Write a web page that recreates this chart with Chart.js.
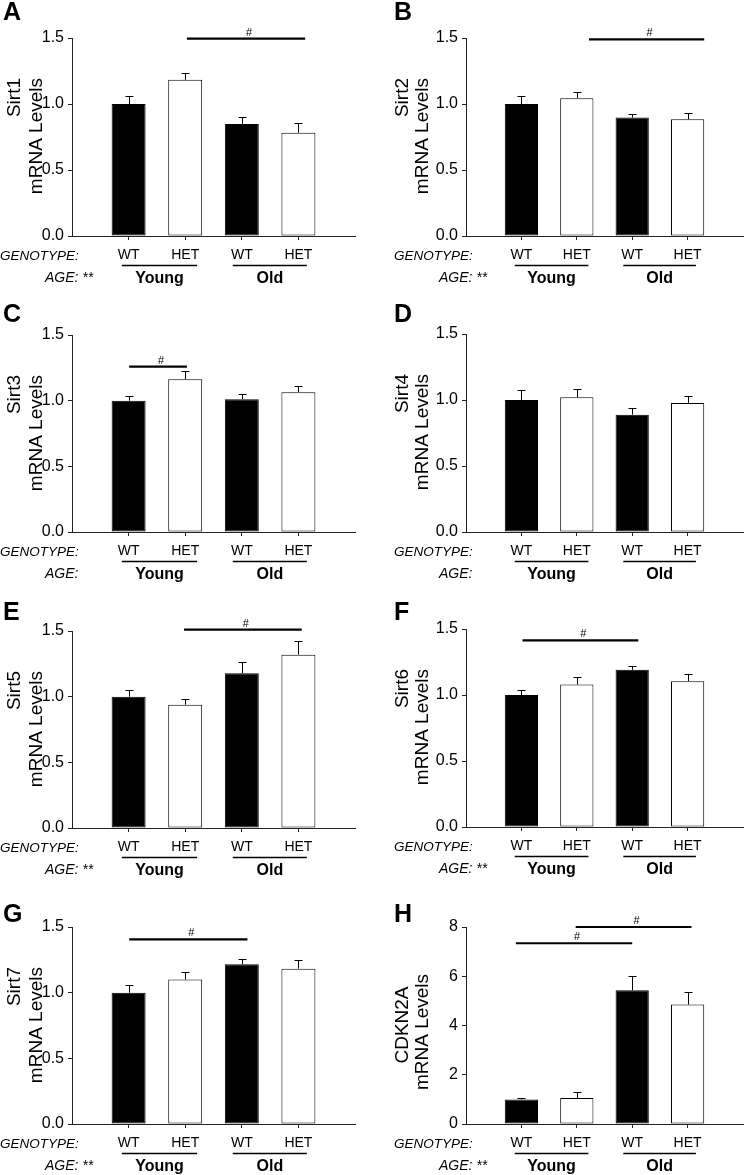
<!DOCTYPE html>
<html><head><meta charset="utf-8">
<script src="https://cdn.jsdelivr.net/npm/chart.js@4.4.0/dist/chart.umd.min.js"></script>
<style>
html,body{margin:0;padding:0;background:#fff;}
#wrap{position:relative;width:750px;height:1175px;overflow:hidden;background:#fff;}
canvas{position:absolute;left:0;top:0;}
</style></head><body><div id="wrap"></div>
<script>
// ---------- data ----------
const categories = ['', 'WT', 'HET', 'WT', 'HET', ''];
const groupLabels = ['Young', 'Old'];
const groupSpans = [[0.88, 2.21], [2.84, 4.15]];
const panelLetters = ['A','B','C','D','E','F','G','H'];
const geneNames = ['Sirt1','Sirt2','Sirt3','Sirt4','Sirt5','Sirt6','Sirt7','CDKN2A'];
const ageStars = ['**','**','','','**','**','**','**'];

const sirt1Mean = [null, 1.00, 1.183, 0.849, 0.783, null];
const sirt1Err  = [null, 0.057, 0.051, 0.056, 0.071, null];
const sirt2Mean = [null, 1.00, 1.044, 0.897, 0.884, null];
const sirt2Err  = [null, 0.057, 0.048, 0.028, 0.046, null];
const sirt3Mean = [null, 1.00, 1.163, 1.011, 1.064, null];
const sirt3Err  = [null, 0.036, 0.063, 0.038, 0.048, null];
const sirt4Mean = [null, 1.00, 1.021, 0.889, 0.978, null];
const sirt4Err  = [null, 0.072, 0.063, 0.053, 0.056, null];
const sirt5Mean = [null, 1.00, 0.939, 1.178, 1.320, null];
const sirt5Err  = [null, 0.048, 0.046, 0.083, 0.104, null];
const sirt6Mean = [null, 1.00, 1.079, 1.191, 1.105, null];
const sirt6Err  = [null, 0.041, 0.054, 0.030, 0.053, null];
const sirt7Mean = [null, 1.00, 1.100, 1.216, 1.183, null];
const sirt7Err  = [null, 0.062, 0.055, 0.041, 0.064, null];
const cdkn2aMean = [null, 1.00, 1.054, 5.43, 4.85, null];
const cdkn2aErr  = [null, 0.07, 0.256, 0.60, 0.51, null];

// significance bars: [from category position, to category position, y value]
const sirt1Sig = [[2.03, 4.12, 1.495]];
const sirt2Sig = [[2.22, 4.30, 1.49]];
const sirt3Sig = [[1.01, 2.03, 1.259]];
const sirt4Sig = [];
const sirt5Sig = [[1.98, 4.06, 1.51]];
const sirt6Sig = [[1.02, 3.11, 1.414]];
const sirt7Sig = [[1.01, 3.10, 1.406]];
const cdkn2aSig = [[0.90, 3.00, 7.34], [1.98, 4.07, 8.0]];

const sirtTicksMax = 1.5, sirtStep = 0.5;
const cdknTicksMax = 8, cdknStep = 2;

const allMeans = [sirt1Mean, sirt2Mean, sirt3Mean, sirt4Mean, sirt5Mean, sirt6Mean, sirt7Mean, cdkn2aMean];
const allErrs  = [sirt1Err, sirt2Err, sirt3Err, sirt4Err, sirt5Err, sirt6Err, sirt7Err, cdkn2aErr];
const allSigs  = [sirt1Sig, sirt2Sig, sirt3Sig, sirt4Sig, sirt5Sig, sirt6Sig, sirt7Sig, cdkn2aSig];

// ---------- layout ----------
const W = 750, H = 1175;
const colAxisX = [72, 466];
const plotWidth = 283;
const plotTop = [38, 38, 335, 334, 631, 629, 927, 927];
const plotBottom = [236, 236, 532, 532, 828, 827, 1124, 1124];
const letterX = [3, 394];
const letterBase = [20, 20, 322, 322, 620, 620, 922, 922];
const titleOffsets = [[-52, -30], [-58, -38]];
const Y_AXIS_W = 60, X_AXIS_H = 30;
const FONT = "'Liberation Sans', Arial, Helvetica, sans-serif";

const wrap = document.getElementById('wrap');

const annotate = {
  id: 'annotate',
  afterDraw(chart, args, o) {
    const ctx = chart.ctx;
    const xs = chart.scales.x, ys = chart.scales.y;
    const p = o.panel;
    const y0 = ys.getPixelForValue(0);
    const axisX = xs.left;
    ctx.save();
    ctx.strokeStyle = '#000';
    ctx.fillStyle = '#000';
    // error bars
    ctx.lineWidth = 1;
    p.means.forEach((m, i) => {
      if (m === null) return;
      const x = Math.round(xs.getPixelForValue(i)) + 0.5;
      const yT = ys.getPixelForValue(m);
      const yE = Math.round(ys.getPixelForValue(m + p.errs[i])) + 0.5;
      ctx.beginPath();
      ctx.moveTo(x, yT); ctx.lineTo(x, yE);
      ctx.moveTo(x - 4, yE); ctx.lineTo(x + 4, yE);
      ctx.stroke();
    });
    // significance bars
    p.sigs.forEach(s => {
      const xa = xs.getPixelForValue(s[0]), xb = xs.getPixelForValue(s[1]);
      const yy = ys.getPixelForValue(s[2]);
      ctx.lineWidth = 2.2;
      ctx.beginPath(); ctx.moveTo(xa, yy); ctx.lineTo(xb, yy); ctx.stroke();
      ctx.font = '11px ' + FONT;
      ctx.textAlign = 'center'; ctx.textBaseline = 'alphabetic';
      ctx.fillText('#', (xa + xb) / 2 + 3, yy - 3);
    });
    // panel letter
    ctx.font = 'bold 25px ' + FONT;
    ctx.textAlign = 'left'; ctx.textBaseline = 'alphabetic';
    ctx.fillText(p.letter, p.letterX, p.letterBase);
    // y title (two lines, rotated)
    ctx.font = '19px ' + FONT;
    const lines = [p.gene, 'mRNA Levels'];
    lines.forEach((t, k) => {
      ctx.save();
      ctx.translate(axisX + p.titleOff[k], p.titleY[k]);
      ctx.rotate(-Math.PI / 2);
      ctx.textAlign = p.titleAlign;
      ctx.textBaseline = 'alphabetic';
      ctx.fillText(t, 0, 0);
      ctx.restore();
    });
    // genotype / age labels
    ctx.textAlign = 'left';
    ctx.font = 'italic 13.5px ' + FONT;
    ctx.fillText('GENOTYPE:', axisX - 72, y0 + 24);
    ctx.font = 'italic 14px ' + FONT;
    ctx.fillText('AGE:' + (p.stars ? ' ' + p.stars : ''), axisX - 27, y0 + 46);
    groupSpans.forEach((sp, g) => {
      const xa = xs.getPixelForValue(sp[0]), xb = xs.getPixelForValue(sp[1]);
      ctx.lineWidth = 1.5;
      ctx.beginPath(); ctx.moveTo(xa, y0 + 29.5); ctx.lineTo(xb, y0 + 29.5); ctx.stroke();
      ctx.font = 'bold 16px ' + FONT;
      ctx.textAlign = 'center';
      ctx.fillText(groupLabels[g], (xa + xb) / 2, y0 + 47);
    });
    ctx.restore();
  }
};

for (let i = 0; i < 8; i++) {
  const col = i % 2;
  const isH = i === 7;
  const axisX = colAxisX[col];
  const canvas = document.createElement('canvas');
  canvas.width = W; canvas.height = H;
  canvas.style.width = W + 'px'; canvas.style.height = H + 'px';
  wrap.appendChild(canvas);
  const panel = {
    letter: panelLetters[i], gene: geneNames[i], stars: ageStars[i],
    means: allMeans[i], errs: allErrs[i], sigs: allSigs[i],
    letterX: letterX[col], letterBase: letterBase[i],
    titleOff: titleOffsets[col],
    titleAlign: isH ? 'center' : 'right',
    titleY: isH ? [1025, 1032] : [plotTop[i] + 40, plotTop[i] + 40]
  };
  const hideEnds = ctx => (ctx.index === 0 || ctx.index === categories.length - 1) ? 'rgba(0,0,0,0)' : '#222';
  new Chart(canvas, {
    type: 'bar',
    data: {
      labels: categories,
      datasets: [{
        data: allMeans[i],
        backgroundColor: categories.map(c => c === 'WT' ? '#000' : '#fff'),
        borderColor: '#000',
        borderWidth: 1,
        borderSkipped: false,
        barPercentage: 0.6,
        categoryPercentage: 1.0
      }]
    },
    options: {
      responsive: false,
      animation: false,
      devicePixelRatio: 1,
      layout: { padding: {
        left: axisX - Y_AXIS_W,
        right: W - (axisX + plotWidth),
        top: plotTop[i],
        bottom: H - plotBottom[i] - X_AXIS_H
      }},
      plugins: {
        legend: { display: false },
        tooltip: { enabled: false },
        annotate: { panel }
      },
      scales: {
        x: {
          type: 'category',
          offset: false,
          afterFit: s => { s.height = X_AXIS_H; },
          grid: { offset: false, drawOnChartArea: false, drawTicks: true, tickLength: 4, color: hideEnds, tickColor: hideEnds },
          border: { display: true, color: '#222', width: 1 },
          ticks: { autoSkip: false, maxRotation: 0, minRotation: 0, padding: 7, color: '#000', font: { family: FONT, size: 14 } }
        },
        y: {
          min: 0,
          max: isH ? cdknTicksMax : sirtTicksMax,
          afterFit: s => { s.width = Y_AXIS_W; },
          grid: { drawOnChartArea: false, drawTicks: true, tickLength: 4, color: '#222' },
          border: { display: true, color: '#222', width: 1 },
          ticks: {
            stepSize: isH ? cdknStep : sirtStep,
            padding: 4,
            color: '#000',
            font: { family: FONT, size: 16 },
            callback: v => isH ? String(v) : Number(v).toFixed(1)
          }
        }
      }
    },
    plugins: [annotate]
  });
}
</script></body></html>
